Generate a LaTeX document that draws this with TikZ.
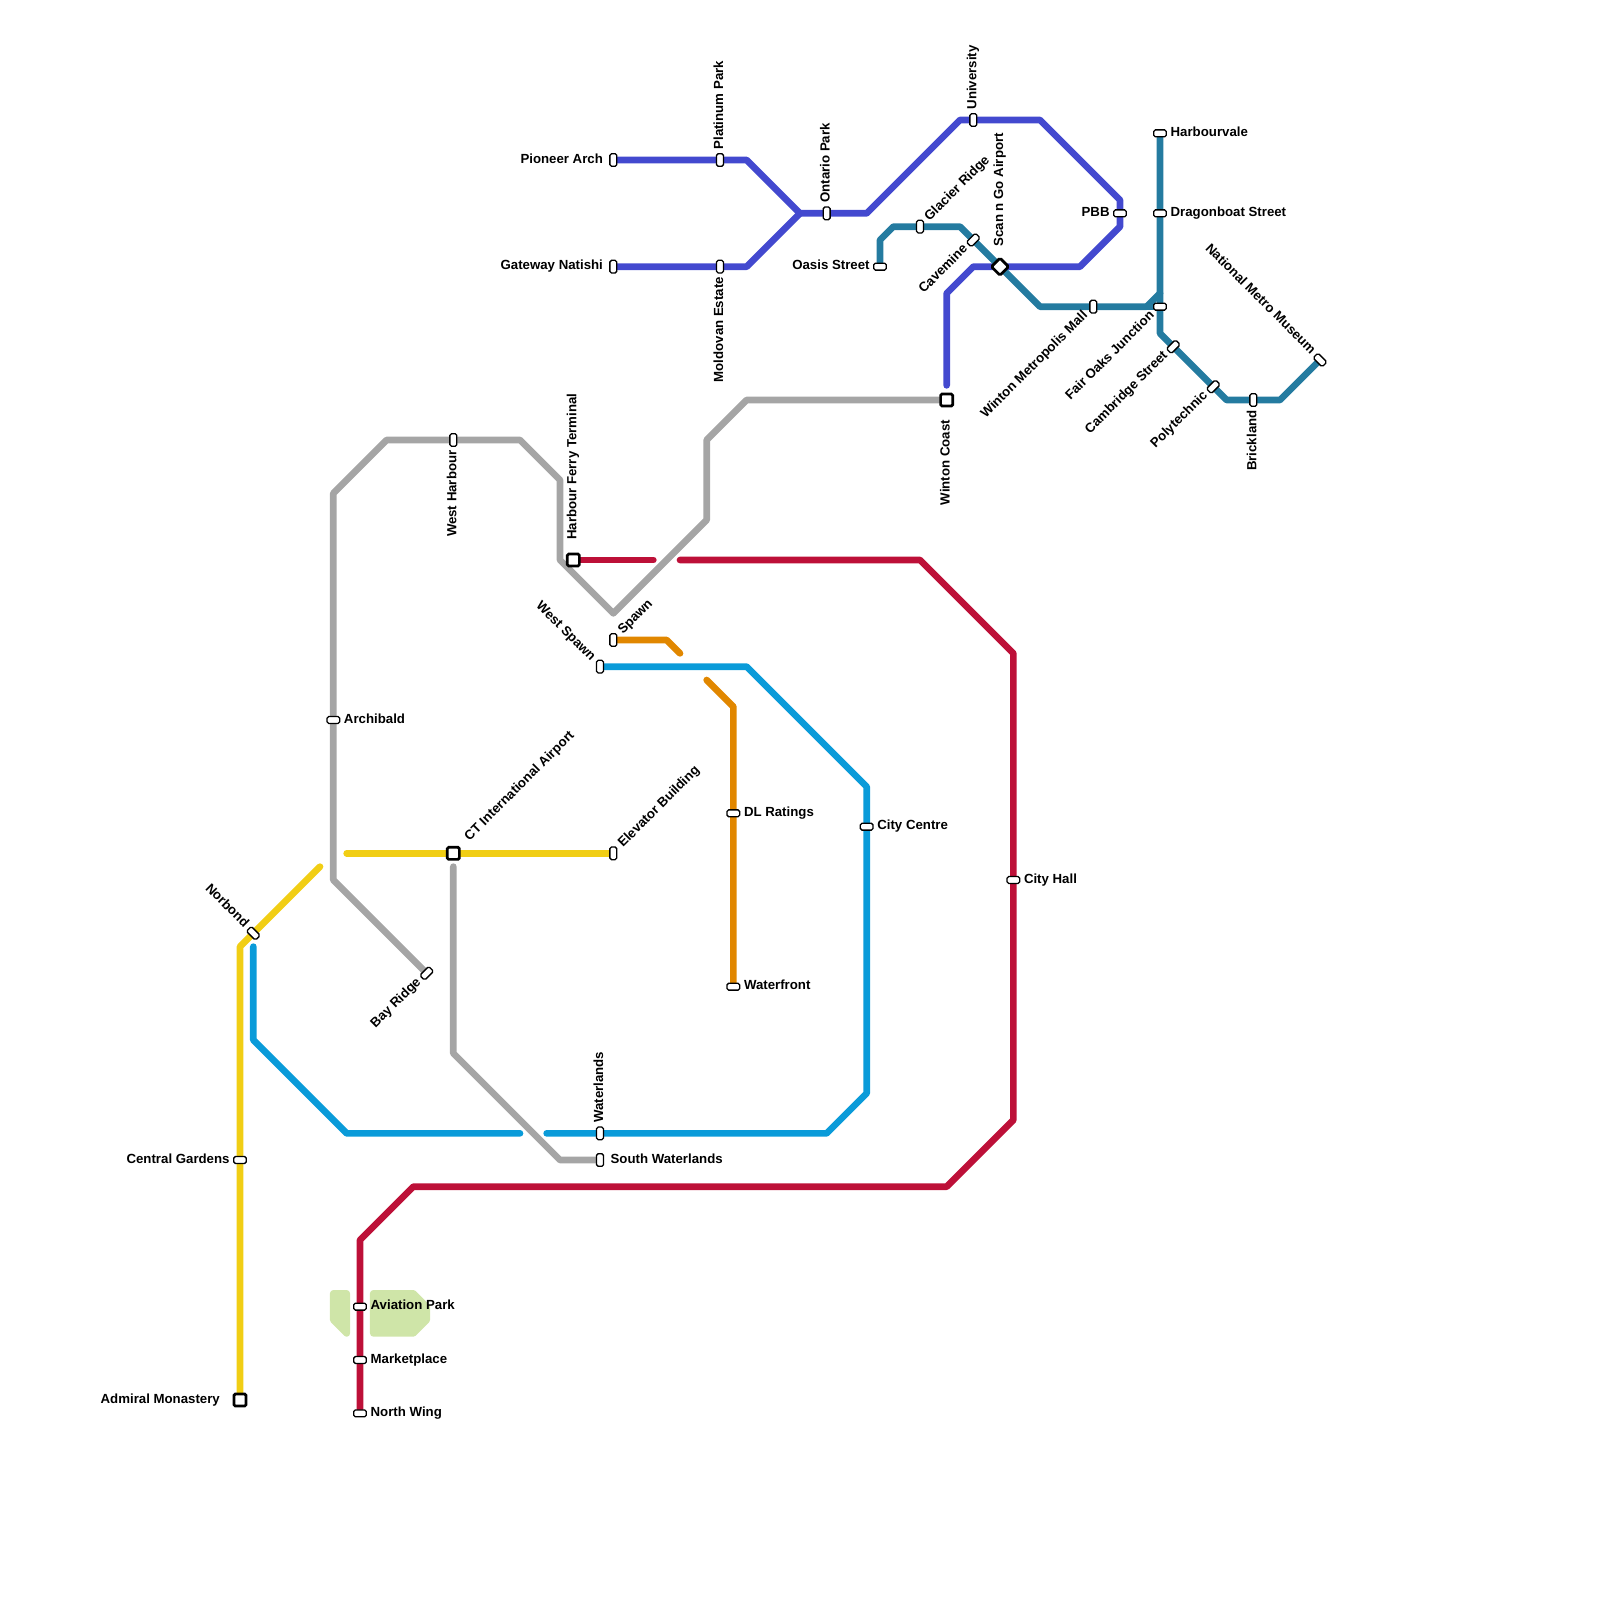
\documentclass[tikz,border=0pt]{standalone}
\usepackage{fontspec}
\setmainfont{Liberation Sans}
\definecolor{lineIndigo}{RGB}{67,73,207}
\definecolor{lineTeal}{RGB}{36,123,160}
\definecolor{lineGray}{RGB}{165,165,165}
\definecolor{lineRed}{RGB}{189,16,56}
\definecolor{lineOrange}{RGB}{225,135,0}
\definecolor{lineCyan}{RGB}{10,155,217}
\definecolor{lineYellow}{RGB}{241,206,21}
\definecolor{parkGreen}{RGB}{207,229,168}
\pgfdeclarelayer{lines}
\pgfsetlayers{lines,main}
\tikzset{
  route/.style={line width=5.7pt,line cap=round,line join=round,color=#1},
  park/.style={fill=parkGreen,draw=parkGreen,line width=5.7pt,line join=round},
  stn/.style={draw=black,fill=white,line width=1.1pt,rounded corners=1.4pt,inner sep=0pt,minimum width=10.8pt,minimum height=5.9pt,rotate=#1},
  stn/.default=0,
  term/.style={draw=black,fill=white,line width=2.3pt,rounded corners=1.2pt,inner sep=0pt,minimum size=10.3pt,rotate=#1},
  term/.default=0,
  lblbase/.style={font=\fontsize{11.3}{13}\selectfont\bfseries,inner sep=0pt,text height=0.72em,text depth=0.2em},
  fwd/.style={lblbase,rotate=#1,anchor=west,xshift=8.9pt},
  back/.style={lblbase,rotate=#1,anchor=east,xshift=-8.7pt},
  fwdT/.style={lblbase,rotate=#1,anchor=west,xshift=17pt},
  backT/.style={lblbase,rotate=#1,anchor=east,xshift=-17pt},
}
\begin{document}
\begin{tikzpicture}[x=0.4cm,y=-0.4cm]
\path[use as bounding box] (0,0) rectangle (120,120);
% Parks
\begin{pgfonlayer}{lines}
\fill[park] (25,97)--(26,97)--(26,100)--(25,99)--cycle;
\fill[park] (28,97)--(31,97)--(32,98)--(32,99)--(31,100)--(28,100)--cycle;
\end{pgfonlayer}
% Stations
\node[stn=90] (pioneer) at (46,12) {};
\node[stn=90] (platinum) at (54,12) {};
\node[stn=90] (gateway) at (46,20) {};
\node[stn=90] (moldovan) at (54,20) {};
\node[stn=90] (ontario) at (62,16) {};
\node[stn=90] (university) at (73,9) {};
\node[stn] (pbb) at (84,16) {};
\node[term=45] (scango) at (75,20) {};
\node[term] (wintoncoast) at (71,30) {};
\node[stn] (oasis) at (66,20) {};
\node[stn=90] (glacier) at (69,17) {};
\node[stn=45] (cavemine) at (73,18) {};
\node[stn=90] (metromall) at (82,23) {};
\node[stn] (fairoaks) at (87,23) {};
\node[stn] (harbourvale) at (87,10) {};
\node[stn] (dragonboat) at (87,16) {};
\node[stn=45] (cambridge) at (88,26) {};
\node[stn=45] (polytechnic) at (91,29) {};
\node[stn=90] (brickland) at (94,30) {};
\node[stn=-45] (museum) at (99,27) {};
\node[stn=90] (westharbour) at (34,33) {};
\node[stn] (archibald) at (25,54) {};
\node[stn=45] (bayridge) at (32,73) {};
\node[term] (ferry) at (43,42) {};
\node[stn=90] (spawn) at (46,48) {};
\node[stn=90] (westspawn) at (45,50) {};
\node[stn] (dlratings) at (55,61) {};
\node[stn] (waterfront) at (55,74) {};
\node[stn] (citycentre) at (65,62) {};
\node[stn] (cityhall) at (76,66) {};
\node[term] (ctairport) at (34,64) {};
\node[stn=90] (elevator) at (46,64) {};
\node[stn=-45] (norbond) at (19,70) {};
\node[stn] (gardens) at (18,87) {};
\node[term] (monastery) at (18,105) {};
\node[stn=90] (waterlands) at (45,85) {};
\node[stn=90] (southwater) at (45,87) {};
\node[stn] (aviation) at (27,98) {};
\node[stn] (marketplace) at (27,102) {};
\node[stn] (northwing) at (27,106) {};
% Free line ends at the gaps
\coordinate (indigoEnd) at (71,28.9);
\coordinate (grayEnd) at (34,65);
\coordinate (redGapA) at (49,42);
\coordinate (redGapB) at (51,42);
\coordinate (orangeGapA) at (51,49);
\coordinate (orangeGapB) at (53,51);
\coordinate (cyanGapA) at (41,85);
\coordinate (cyanGapB) at (39,85);
\coordinate (cyanEnd) at (19,71);
\coordinate (yellowGapA) at (24,65);
\coordinate (yellowGapB) at (26,64);
% Lines
\begin{pgfonlayer}{lines}
\draw[route=lineGray] (wintoncoast.center)--(56,30)--(53,33)--(53,39)--(46,46)--(42,42)--(42,36)--(39,33)--(29,33)--(25,37)--(25,66)--(bayridge.center);
\draw[route=lineGray] (grayEnd)--(34,79)--(42,87)--(southwater.center);
\draw[route=lineIndigo] (pioneer.center)--(56,12)--(60,16)--(65,16)--(72,9)--(78,9)--(84,15)--(84,17)--(81,20)--(73,20)--(71,22)--(indigoEnd);
\draw[route=lineIndigo] (gateway.center)--(56,20)--(60,16);
\draw[route=lineTeal] (oasis.center)--(66,18)--(67,17)--(72,17)--(78,23)--(86,23)--(87,22);
\draw[route=lineTeal] (86,23)--(fairoaks.center);
\draw[route=lineTeal] (harbourvale.center)--(87,25)--(92,30)--(96,30)--(museum.center);
\draw[route=lineRed] (ferry.center)--(redGapA);
\draw[route=lineRed] (redGapB)--(69,42)--(76,49)--(76,84)--(71,89)--(31,89)--(27,93)--(northwing.center);
\draw[route=lineOrange] (spawn.center)--(50,48)--(orangeGapA);
\draw[route=lineOrange] (orangeGapB)--(55,53)--(waterfront.center);
\draw[route=lineCyan] (westspawn.center)--(56,50)--(65,59)--(65,82)--(62,85)--(cyanGapA);
\draw[route=lineCyan] (cyanGapB)--(26,85)--(19,78)--(cyanEnd);
\draw[route=lineYellow] (monastery.center)--(18,71)--(yellowGapA);
\draw[route=lineYellow] (yellowGapB)--(elevator.center);
\end{pgfonlayer}
% Labels
\node[back=0] (pioneerLbl) at (pioneer) {Pioneer Arch};
\node[fwd=90] (platinumLbl) at (platinum) {Platinum Park};
\node[back=0] (gatewayLbl) at (gateway) {Gateway Natishi};
\node[back=90] (moldovanLbl) at (moldovan) {Moldovan Estate};
\node[fwd=90] (ontarioLbl) at (ontario) {Ontario Park};
\node[fwd=90] (universityLbl) at (university) {University};
\node[back=0] (pbbLbl) at (pbb) {PBB};
\node[fwdT=90] (scangoLbl) at (scango) {Scan n Go Airport};
\node[backT=90] (wintoncoastLbl) at (wintoncoast) {Winton Coast};
\node[back=0] (oasisLbl) at (oasis) {Oasis Street};
\node[fwd=45] (glacierLbl) at (glacier) {Glacier Ridge};
\node[back=45] (cavemineLbl) at (cavemine) {Cavemine};
\node[back=45] (metromallLbl) at (metromall) {Winton Metropolis Mall};
\node[back=45] (fairoaksLbl) at (fairoaks) {Fair Oaks Junction};
\node[fwd=0] (harbourvaleLbl) at (harbourvale) {Harbourvale};
\node[fwd=0] (dragonboatLbl) at (dragonboat) {Dragonboat Street};
\node[back=45] (cambridgeLbl) at (cambridge) {Cambridge Street};
\node[back=45] (polytechnicLbl) at (polytechnic) {Polytechnic};
\node[back=90] (bricklandLbl) at (brickland) {Brickland};
\node[back=-45] (museumLbl) at (museum) {National Metro Museum};
\node[back=90] (westharbourLbl) at (westharbour) {West Harbour};
\node[fwd=0] (archibaldLbl) at (archibald) {Archibald};
\node[back=45] (bayridgeLbl) at (bayridge) {Bay Ridge};
\node[fwdT=90] (ferryLbl) at (ferry) {Harbour Ferry Terminal};
\node[fwd=45] (spawnLbl) at (spawn) {Spawn};
\node[back=-45] (westspawnLbl) at (westspawn) {West Spawn};
\node[fwd=0] (dlratingsLbl) at (dlratings) {DL Ratings};
\node[fwd=0] (waterfrontLbl) at (waterfront) {Waterfront};
\node[fwd=0] (citycentreLbl) at (citycentre) {City Centre};
\node[fwd=0] (cityhallLbl) at (cityhall) {City Hall};
\node[fwdT=45] (ctairportLbl) at (ctairport) {CT International Airport};
\node[fwd=45] (elevatorLbl) at (elevator) {Elevator Building};
\node[back=-45] (norbondLbl) at (norbond) {Norbond};
\node[back=0] (gardensLbl) at (gardens) {Central Gardens};
\node[backT=0] (monasteryLbl) at (monastery) {Admiral Monastery};
\node[fwd=90] (waterlandsLbl) at (waterlands) {Waterlands};
\node[fwd=0] (southwaterLbl) at (southwater) {South Waterlands};
\node[fwd=0] (aviationLbl) at (aviation) {Aviation Park};
\node[fwd=0] (marketplaceLbl) at (marketplace) {Marketplace};
\node[fwd=0] (northwingLbl) at (northwing) {North Wing};
\end{tikzpicture}
\end{document}
